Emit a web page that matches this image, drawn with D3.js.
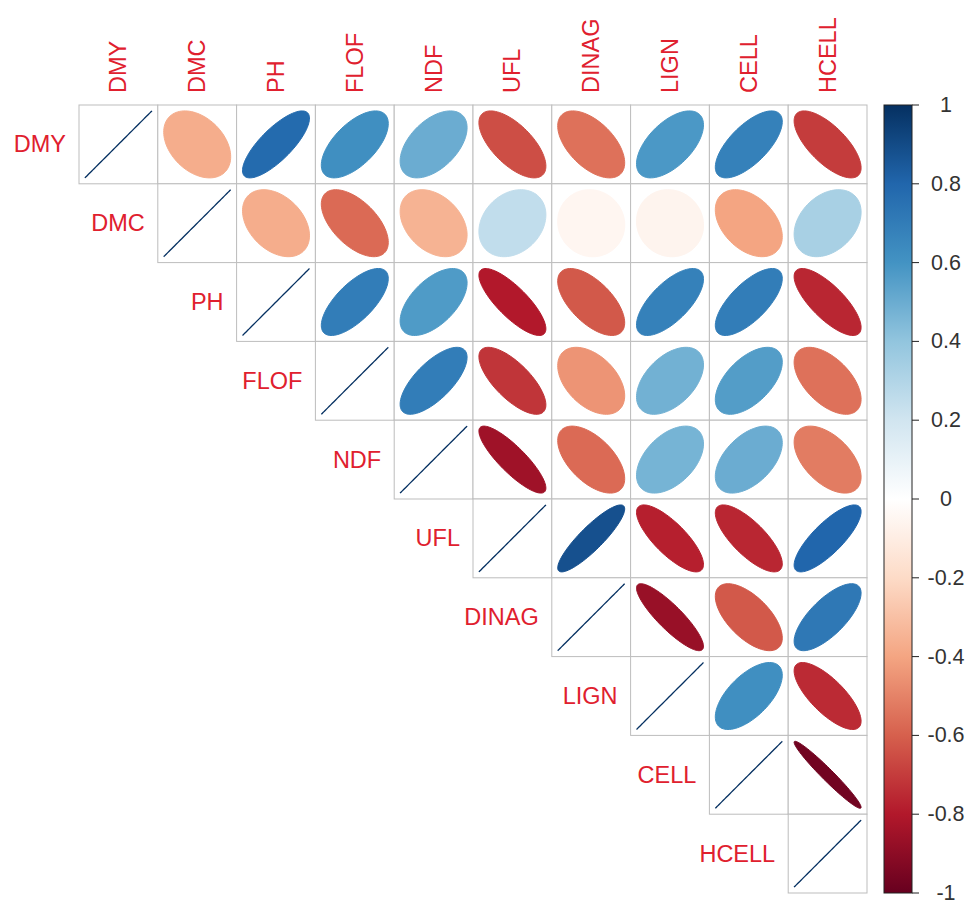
<!DOCTYPE html>
<html>
<head>
<meta charset="utf-8">
<script src="https://cdn.jsdelivr.net/npm/d3@7"></script>
<style>
  body { margin: 0; background: #fff; }
  svg { display: block; font-family: "Liberation Sans", Arial, sans-serif; }
</style>
</head>
<body>
<div id="chart"></div>
<script>
// variabel
const VARS = ["DMY", "DMC", "PH", "FLOF", "NDF", "UFL", "DINAG", "LIGN", "CELL", "HCELL"];

// korelasi segitiga atas, per baris (mulai dari diagonal)
const R_DMY   = [1, -0.37, 0.78, 0.62, 0.50, -0.65, -0.55, 0.58, 0.68, -0.70];
const R_DMC   = [1, -0.37, -0.57, -0.35, 0.25, -0.05, -0.06, -0.40, 0.33];
const R_PH    = [1, 0.70, 0.57, -0.80, -0.62, 0.68, 0.70, -0.76];
const R_FLOF  = [1, 0.70, -0.72, -0.45, 0.48, 0.56, -0.55];
const R_NDF   = [1, -0.85, -0.57, 0.47, 0.50, -0.52];
const R_UFL   = [1, 0.88, -0.78, -0.76, 0.80];
const R_DINAG = [1, -0.87, -0.62, 0.72];
const R_LIGN  = [1, 0.62, -0.75];
const R_CELL  = [1, -0.97];
const R_HCELL = [1];
const ROWS = [R_DMY, R_DMC, R_PH, R_FLOF, R_NDF, R_UFL, R_DINAG, R_LIGN, R_CELL, R_HCELL];

const LEGEND_TICKS = [1, 0.8, 0.6, 0.4, 0.2, 0, -0.2, -0.4, -0.6, -0.8, -1];
const PAL_STOPS = [-1, -0.8, -0.6, -0.4, -0.2, 0, 0.2, 0.4, 0.6, 0.8, 1];
const PAL = ["#67001F", "#B2182B", "#D6604D", "#F4A582", "#FDDBC7", "#FFFFFF",
             "#D1E5F0", "#92C5DE", "#4393C3", "#2166AC", "#053061"];

const LABEL_COL = "#e0202e";

const W = 977, H = 906;
const gridL = 79, gridT = 105, cell = 78.8;

const svg = d3.select("#chart").append("svg")
  .attr("width", W).attr("height", H);

// skala
const x = d3.scaleBand().domain(VARS).range([gridL, gridL + cell * VARS.length]);
const y = d3.scaleBand().domain(VARS).range([gridT, gridT + cell * VARS.length]);
const color = d3.scaleLinear().domain(PAL_STOPS).range(PAL);

// data sel
const cells = [];
ROWS.forEach((row, i) => {
  row.forEach((r, k) => {
    cells.push({ row: VARS[i], col: VARS[i + k], r });
  });
});

// grid
svg.append("g").selectAll("rect")
  .data(cells).enter().append("rect")
  .attr("x", d => x(d.col))
  .attr("y", d => y(d.row))
  .attr("width", x.bandwidth())
  .attr("height", y.bandwidth())
  .attr("fill", "#fff")
  .attr("stroke", "#bdbdbd")
  .attr("stroke-width", 1);

// elips (cara corrplot)
function ellipsePts(rho) {
  const n = 99, d = Math.acos(Math.max(-1, Math.min(1, rho)));
  const s = 0.85 * cell;
  return d3.range(n).map(i => {
    const k = 2 * Math.PI * i / (n - 1);
    return [Math.cos(k + d / 2) / 2 * s, -Math.cos(k - d / 2) / 2 * s];
  });
}
const line = d3.line().curve(d3.curveLinearClosed);

svg.append("g").selectAll("path")
  .data(cells).enter().append("path")
  .attr("transform", d => `translate(${x(d.col) + x.bandwidth() / 2},${y(d.row) + y.bandwidth() / 2})`)
  .attr("d", d => line(ellipsePts(d.r)))
  .attr("fill", d => color(d.r))
  .attr("stroke", d => color(d.r))
  .attr("stroke-width", d => d.r === 1 ? 1.3 : 1);

// label kolom
svg.append("g").selectAll("text")
  .data(VARS).enter().append("text")
  .attr("transform", d => `translate(${x(d) + x.bandwidth() / 2},${gridT - 12}) rotate(-90)`)
  .attr("dominant-baseline", "central")
  .attr("text-anchor", "start")
  .attr("fill", LABEL_COL)
  .attr("font-size", "23.5px")
  .text(d => d);

// label baris
svg.append("g").selectAll("text")
  .data(VARS).enter().append("text")
  .attr("x", d => x(d) - 13)
  .attr("y", d => y(d) + y.bandwidth() / 2)
  .attr("dominant-baseline", "central")
  .attr("text-anchor", "end")
  .attr("fill", LABEL_COL)
  .attr("font-size", "23.5px")
  .text(d => d);

// legenda warna
const legX = 884, legW = 28;
const legY = d3.scaleLinear().domain([1, -1]).range([gridT, gridT + cell * VARS.length]);

const grad = svg.append("defs").append("linearGradient")
  .attr("id", "leg-grad")
  .attr("x1", 0).attr("y1", 1).attr("x2", 0).attr("y2", 0);
grad.selectAll("stop")
  .data(PAL_STOPS).enter().append("stop")
  .attr("offset", d => (d + 1) / 2)
  .attr("stop-color", d => color(d));

svg.append("rect")
  .attr("x", legX).attr("y", legY(1))
  .attr("width", legW).attr("height", legY(-1) - legY(1))
  .attr("fill", "url(#leg-grad)")
  .attr("stroke", "#222")
  .attr("stroke-width", 1);

const legAxis = svg.append("g").attr("class", "leg-ticks");
legAxis.selectAll("line")
  .data(LEGEND_TICKS).enter().append("line")
  .attr("x1", legX + legW).attr("x2", legX + legW + 7)
  .attr("y1", d => legY(d)).attr("y2", d => legY(d))
  .attr("stroke", "#222");
legAxis.selectAll("text")
  .data(LEGEND_TICKS).enter().append("text")
  .attr("x", 946)
  .attr("y", d => legY(d))
  .attr("dominant-baseline", "central")
  .attr("text-anchor", "middle")
  .attr("fill", "#333")
  .attr("font-size", "21.5px")
  .text(d => String(d));
</script>
</body>
</html>
